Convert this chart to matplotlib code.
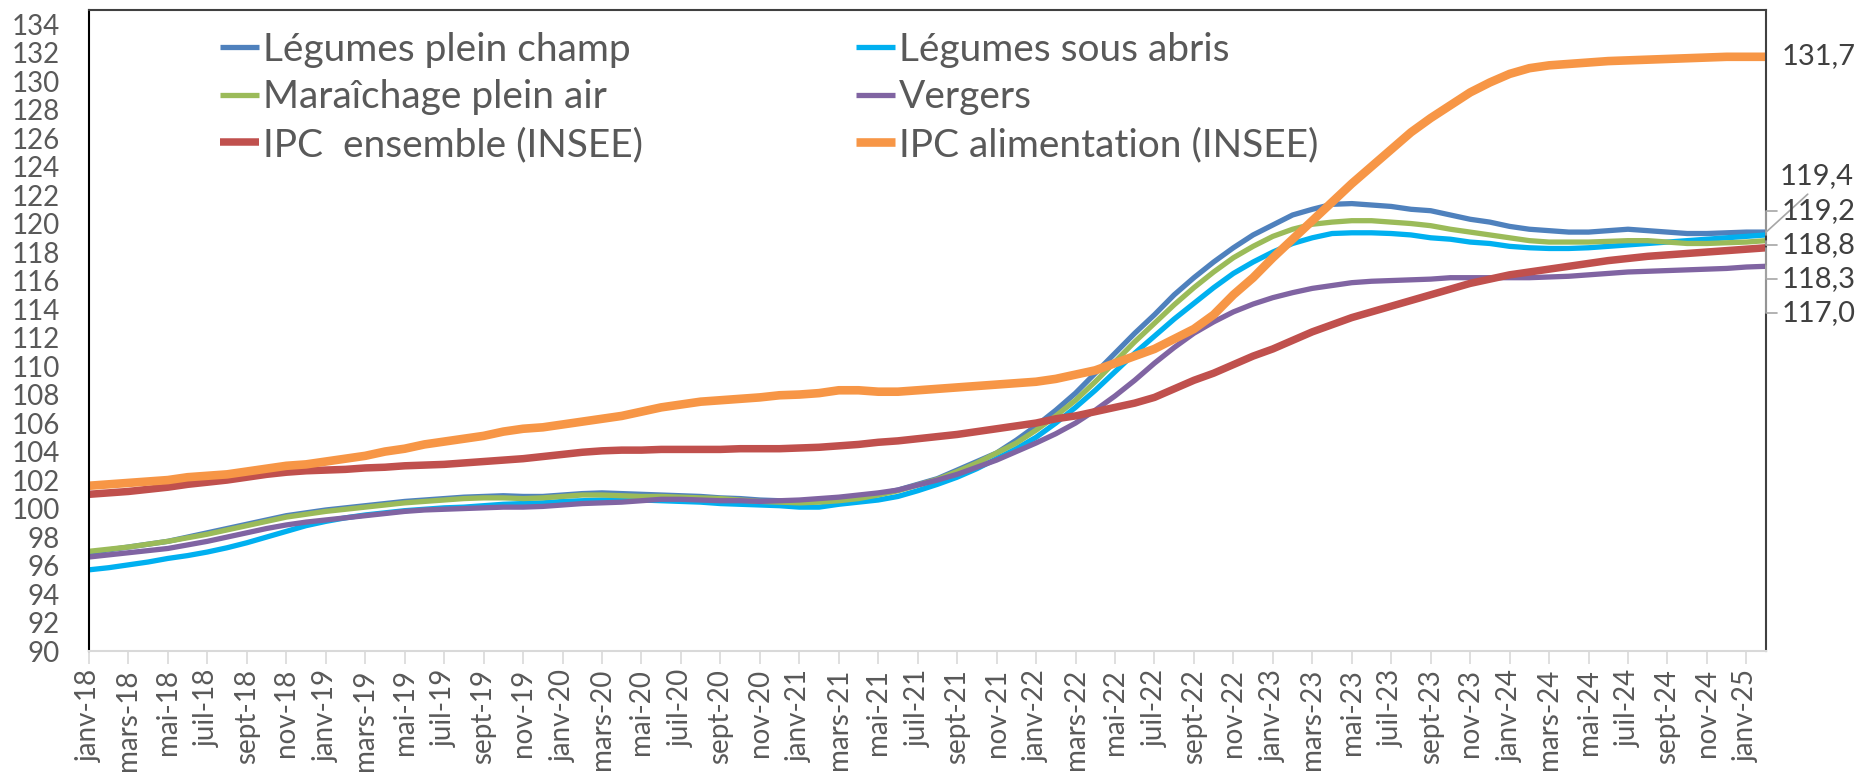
import matplotlib
matplotlib.use("Agg")
import matplotlib.pyplot as plt
import numpy as np

plt.rcParams['font.family'] = ['Lato', 'DejaVu Sans']

# mois de janv-18 a fevr-25
mois_noms = ['janv', 'févr', 'mars', 'avr', 'mai', 'juin',
             'juil', 'août', 'sept', 'oct', 'nov', 'déc']
mois = ['%s-%02d' % (mois_noms[k % 12], 18 + k // 12) for k in range(86)]

legumes_plein_champ = [
    96.9, 97.1, 97.3, 97.5, 97.7, 98.0, 98.3, 98.6, 98.9, 99.2, 99.5, 99.7,
    99.9, 100.05, 100.2, 100.35, 100.5, 100.6, 100.7, 100.8, 100.85, 100.9, 100.85, 100.85,
    100.95, 101.05, 101.1, 101.05, 101.0, 100.95, 100.9, 100.85, 100.75, 100.7, 100.6, 100.55,
    100.5, 100.55, 100.6, 100.7, 101.0, 101.3, 101.7, 102.1, 102.7, 103.3, 103.9, 104.8,
    105.8, 106.9, 108.1, 109.5, 110.9, 112.3, 113.6, 115.0, 116.2, 117.3, 118.3, 119.2,
    119.9, 120.6, 121.0, 121.35, 121.4, 121.3, 121.2, 121.0, 120.9, 120.6, 120.3, 120.1,
    119.8, 119.6, 119.5, 119.4, 119.4, 119.5, 119.6, 119.5, 119.4, 119.3, 119.3, 119.35,
    119.4, 119.4]

legumes_sous_abris = [
    95.7, 95.85, 96.05, 96.25, 96.5, 96.7, 96.95, 97.25, 97.6, 98.0, 98.4, 98.8,
    99.1, 99.35, 99.55, 99.7, 99.85, 99.95, 100.05, 100.1, 100.2, 100.3, 100.35, 100.4,
    100.5, 100.55, 100.6, 100.6, 100.6, 100.55, 100.5, 100.45, 100.35, 100.3, 100.25, 100.2,
    100.1, 100.1, 100.3, 100.45, 100.6, 100.85, 101.25, 101.7, 102.2, 102.8, 103.5, 104.2,
    105.0, 106.0, 107.1, 108.3, 109.6, 110.9, 112.1, 113.3, 114.4, 115.5, 116.5, 117.3,
    118.0, 118.6, 119.0, 119.3, 119.35, 119.35, 119.3, 119.2, 119.0, 118.9, 118.7, 118.6,
    118.4, 118.3, 118.25, 118.25, 118.3, 118.4, 118.5, 118.6, 118.7, 118.8, 118.9, 119.0,
    119.1, 119.2]

maraichage_plein_air = [
    97.0, 97.15, 97.3, 97.5, 97.7, 97.95, 98.2, 98.5, 98.8, 99.1, 99.4, 99.6,
    99.8, 99.95, 100.1, 100.25, 100.4, 100.5, 100.6, 100.7, 100.75, 100.75, 100.7, 100.75,
    100.85, 100.95, 100.95, 100.9, 100.85, 100.85, 100.8, 100.75, 100.7, 100.6, 100.5, 100.45,
    100.4, 100.45, 100.55, 100.7, 100.95, 101.25, 101.65, 102.05, 102.6, 103.2, 103.9, 104.6,
    105.5, 106.5, 107.6, 108.9, 110.3, 111.7, 113.0, 114.3, 115.5, 116.6, 117.6, 118.4,
    119.1, 119.6, 119.95, 120.1, 120.2, 120.2, 120.1, 120.0, 119.85, 119.6, 119.4, 119.2,
    119.0, 118.8, 118.7, 118.7, 118.7, 118.75, 118.8, 118.8, 118.7, 118.6, 118.6, 118.65,
    118.7, 118.8]

vergers = [
    96.6, 96.75, 96.9, 97.05, 97.2, 97.45, 97.7, 98.0, 98.3, 98.6, 98.85, 99.05,
    99.2, 99.35, 99.5, 99.65, 99.8, 99.9, 99.95, 100.0, 100.05, 100.1, 100.1, 100.15,
    100.25, 100.35, 100.4, 100.45, 100.55, 100.65, 100.65, 100.6, 100.55, 100.55, 100.5, 100.55,
    100.6, 100.7, 100.8, 100.95, 101.1, 101.3, 101.65, 102.0, 102.4, 102.9, 103.4, 104.0,
    104.6, 105.25, 106.0, 106.9, 107.9, 109.0, 110.2, 111.3, 112.3, 113.1, 113.8, 114.35,
    114.8, 115.15, 115.45, 115.65, 115.85, 115.95, 116.0, 116.05, 116.1, 116.2, 116.2, 116.2,
    116.2, 116.2, 116.25, 116.3, 116.4, 116.5, 116.6, 116.65, 116.7, 116.75, 116.8, 116.85,
    116.95, 117.0]

ipc_ensemble = [
    101.0, 101.1, 101.2, 101.35, 101.5, 101.7, 101.85, 102.0, 102.2, 102.4, 102.55, 102.65,
    102.7, 102.75, 102.85, 102.9, 103.0, 103.05, 103.1, 103.2, 103.3, 103.4, 103.5, 103.65,
    103.8, 103.95, 104.05, 104.1, 104.1, 104.15, 104.15, 104.15, 104.15, 104.2, 104.2, 104.2,
    104.25, 104.3, 104.4, 104.5, 104.65, 104.75, 104.9, 105.05, 105.2, 105.4, 105.6, 105.8,
    106.0, 106.3, 106.5, 106.8, 107.1, 107.4, 107.8, 108.4, 109.0, 109.5, 110.1, 110.7,
    111.2, 111.8, 112.4, 112.9, 113.4, 113.8, 114.2, 114.6, 115.0, 115.4, 115.8, 116.1,
    116.4, 116.6, 116.8, 117.0, 117.2, 117.4, 117.55, 117.7, 117.8, 117.9, 118.0, 118.1,
    118.2, 118.3]

ipc_alimentation = [
    101.6, 101.7, 101.8, 101.9, 102.0, 102.2, 102.3, 102.4, 102.6, 102.8, 103.0, 103.1,
    103.3, 103.5, 103.7, 104.0, 104.2, 104.5, 104.7, 104.9, 105.1, 105.4, 105.6, 105.7,
    105.9, 106.1, 106.3, 106.5, 106.8, 107.1, 107.3, 107.5, 107.6, 107.7, 107.8, 107.95,
    108.0, 108.1, 108.3, 108.3, 108.2, 108.2, 108.3, 108.4, 108.5, 108.6, 108.7, 108.8,
    108.9, 109.1, 109.4, 109.7, 110.2, 110.7, 111.2, 111.9, 112.6, 113.6, 115.0, 116.2,
    117.6, 118.9, 120.2, 121.5, 122.8, 124.0, 125.2, 126.4, 127.4, 128.3, 129.2, 129.9,
    130.5, 130.9, 131.1, 131.2, 131.3, 131.4, 131.45, 131.5, 131.55, 131.6, 131.65, 131.7,
    131.7, 131.7]

noms = ['Légumes plein champ', 'Légumes sous abris', 'Maraîchage plein air',
        'Vergers', 'IPC  ensemble (INSEE)', 'IPC alimentation (INSEE)']
series = [legumes_plein_champ, legumes_sous_abris, maraichage_plein_air,
          vergers, ipc_ensemble, ipc_alimentation]
couleurs = ['#4F81BD', '#00B0F0', '#9BBB59', '#8064A2', '#C0504D', '#F79646']
epaisseurs = [3.8, 3.8, 3.8, 3.8, 5.4, 6.2]

# niveau (en valeur) ou sont poses les libelles de fin de courbe
niveaux_libelles = [123.3, 120.9, 118.5, 113.7, 116.1, 131.75]

fig = plt.figure(figsize=(18.62, 7.76), dpi=100)
ax = fig.add_axes([0.0478, 0.161, 0.9007, 0.8264])

x = np.arange(len(mois))
lignes = {}
for nom, y, c, lw in zip(noms, series, couleurs, epaisseurs):
    lignes[nom], = ax.plot(x, y, color=c, lw=lw, solid_capstyle='butt',
                           solid_joinstyle='round')

ax.set_xlim(0, len(mois) - 1)
ax.set_ylim(90, 135)
ax.set_yticks(np.arange(90, 135, 2))
ax.set_xticks(x[::2])
ax.set_xticklabels(mois[::2], rotation=90)
ax.tick_params(axis='y', length=0, labelsize=20, colors='#595959', pad=21)
ax.tick_params(axis='x', length=9, width=1.2, color='#d9d9d9', labelsize=20,
               labelcolor='#595959', pad=4)
ax.spines['left'].set_color('#000000')
ax.spines['left'].set_linewidth(1.5)
ax.spines['bottom'].set_color('#d9d9d9')
ax.spines['bottom'].set_linewidth(1.5)
for s in ['top', 'right']:
    ax.spines[s].set_color('#404040')
    ax.spines[s].set_linewidth(1.5)

# libelles de fin de courbe avec traits de rappel
dx = 0.78
for nom, y, niv in zip(noms, series, niveaux_libelles):
    v = y[-1]
    txt = ('%.1f' % v).replace('.', ',')
    if nom.startswith('IPC alim'):
        ax.annotate(txt, xy=(x[-1], v), xytext=(x[-1] + dx, niv),
                    ha='left', va='center', fontsize=21, color='#404040',
                    annotation_clip=False)
    elif nom == 'Légumes plein champ':
        ax.annotate(txt, xy=(x[-1], v), xytext=(x[-1] + dx - 0.1, niv),
                    ha='left', va='center', fontsize=21, color='#404040',
                    annotation_clip=False,
                    arrowprops=dict(arrowstyle='-', color='#a6a6a6', lw=1.2,
                                    relpos=(0.45, 0.0), shrinkA=2, shrinkB=0))
    else:
        ax.annotate(txt, xy=(x[-1], v), xytext=(x[-1] + dx, niv),
                    ha='left', va='center', fontsize=21, color='#404040',
                    annotation_clip=False,
                    arrowprops=dict(arrowstyle='-', color='#a6a6a6', lw=1.2,
                                    connectionstyle='angle,angleA=0,angleB=90,rad=0',
                                    relpos=(0.0, 0.5), shrinkA=1, shrinkB=0))

ordre = [0, 2, 4, 1, 3, 5]
leg = ax.legend([lignes[noms[k]] for k in ordre], [noms[k] for k in ordre],
                ncol=2, loc='upper left', bbox_to_anchor=(0.078, 0.966),
                frameon=False, fontsize=28, handlelength=1.0, handletextpad=0.1,
                columnspacing=5.5, labelspacing=0.3, borderaxespad=0, borderpad=0)
for t in leg.get_texts():
    t.set_color('#595959')

fig.savefig('out.png', dpi=100)
